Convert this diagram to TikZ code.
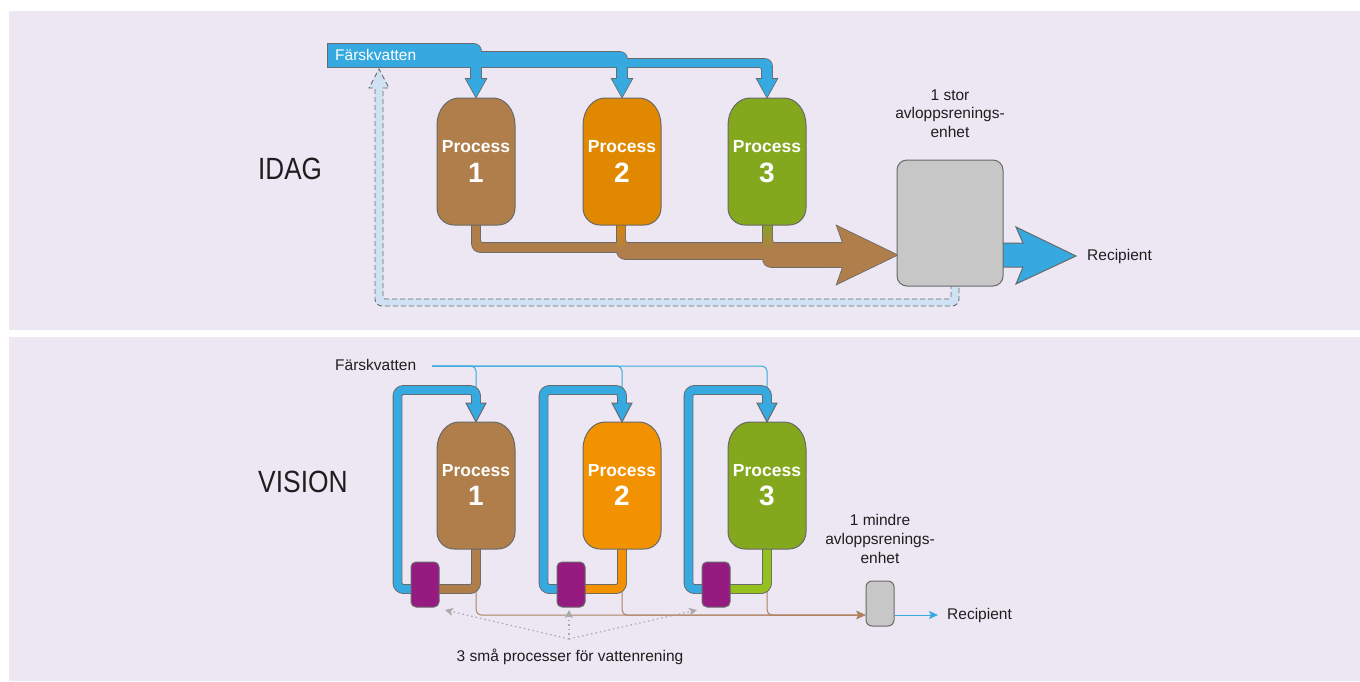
\documentclass[tikz,border=0pt]{standalone}
\usepackage{fontspec}
\setmainfont{Liberation Sans}
\usetikzlibrary{arrows.meta}
\definecolor{panel}{RGB}{236,231,243}
\definecolor{wblue}{RGB}{54,169,224}
\definecolor{pbrown}{RGB}{176,126,74}
\definecolor{porange}{RGB}{224,137,0}
\definecolor{porangeb}{RGB}{242,146,0}
\definecolor{pgreen}{RGB}{131,168,30}
\definecolor{pgreenb}{RGB}{149,193,31}
\definecolor{ppurple}{RGB}{149,27,129}
\definecolor{unitgray}{RGB}{199,199,199}
\definecolor{edge}{RGB}{105,105,105}
\definecolor{ink}{RGB}{30,30,30}
\definecolor{lightblue}{RGB}{207,226,243}
\definecolor{thinbrown}{RGB}{176,130,96}
\definecolor{hintgray}{RGB}{170,170,170}
% vessel outline: #1 centre x, #2 top y (pixels, downwards)
\newcommand\vesselpath[2]{({#1-39},{-(#2)-27}) arc[start angle=180,end angle=90,x radius=22,y radius=27] -- ({#1+17},{-(#2)}) arc[start angle=90,end angle=0,x radius=22,y radius=27] -- ({#1+39},{-(#2)-110}) arc[start angle=0,end angle=-90,radius=17] -- ({#1-22},{-(#2)-127}) arc[start angle=-90,end angle=-180,radius=17] -- cycle}
% fresh water supply shapes (top)
\newcommand\bluA{(328,-44) -- (474,-44) arc[start angle=90,end angle=0,radius=7] -- (481,-79) -- (486,-79) -- (476,-97) -- (466,-79) -- (471,-79) -- (471,-67) -- (328,-67) -- cycle}
\newcommand\bluB{(470,-52) -- (620,-52) arc[start angle=90,end angle=0,radius=7] -- (627,-79) -- (632,-79) -- (622,-97) -- (612,-79) -- (617,-79) -- (617,-67) -- (470,-67) -- cycle}
\newcommand\bluC{(615,-59) -- (765,-59) arc[start angle=90,end angle=0,radius=7] -- (772,-79) -- (777,-79) -- (767,-97) -- (757,-79) -- (762,-79) -- (762,-70) arc[start angle=0,end angle=90,radius=3] -- (615,-67) -- cycle}
% waste water shapes (top)
\newcommand\brnA{(472,-220) -- (472,-244) arc[start angle=180,end angle=270,radius=8] -- (850,-252) -- (850,-243) -- (483,-243) arc[start angle=270,end angle=180,radius=3] -- (480,-220) -- cycle}
\newcommand\brnB{(617,-220) -- (617,-251) arc[start angle=180,end angle=270,radius=8] -- (850,-259) -- (850,-243) -- (628,-243) arc[start angle=270,end angle=180,radius=3] -- (625,-220) -- cycle}
\newcommand\brnC{(763,-220) -- (763,-259) arc[start angle=180,end angle=270,radius=8] -- (850,-267) -- (850,-243) -- (775,-243) arc[start angle=270,end angle=180,radius=3] -- (772,-220) -- cycle}
\newcommand\brnHead{(843,-243) -- (837,-226) -- (897,-255) -- (837,-284) -- (843,-267) -- (830,-267) -- (830,-243) -- cycle}
\begin{document}
\begin{tikzpicture}[x=1pt,y=1pt,
  edgeline/.style={draw=edge, line width=1pt},
  lbl/.style={font=\fontsize{15.5}{18}\selectfont, text=ink, inner sep=0pt},
  ptitle/.style={text=white, font=\bfseries\fontsize{17.5}{20}\selectfont, inner sep=0pt},
  pnum/.style={text=white, font=\bfseries\fontsize{28}{30}\selectfont, inner sep=0pt},
  bigtitle/.style={font=\fontsize{30.7}{34}\selectfont, text=ink, inner sep=0pt},
  unitbox/.style={draw=edge, line width=1pt, fill=unitgray, inner sep=0pt},
  pipeedge/.style={draw=edge, line width=9.8pt, rounded corners=6pt},
  pipefill/.style={line width=8pt, rounded corners=6pt},
  thinarrow/.style={line width=1pt, -{Stealth[length=9pt,width=8pt,inset=2pt]}},
  hintarrow/.style={draw=hintgray, line width=1.2pt, dash pattern=on 1.5pt off 3pt, -{Stealth[length=8pt,width=8pt,inset=2pt]}},
  returnpipe/.style={fill=lightblue, draw=edge, line width=0.9pt, dash pattern=on 5pt off 3pt},
]
\useasboundingbox (0,0) rectangle (1360,-681);
\fill[white] (0,0) rectangle (1360,-681);
\fill[panel] (9,-11) rectangle (1360,-330);
\fill[panel] (9,-337) rectangle (1360,-681);

%% ================= IDAG =================
\node[bigtitle, anchor=base west] (idag) at (258,-179) {\scalebox{0.85}[1]{IDAG}};

% return pipe (dashed)
\path[returnpipe] (959,-280) -- (959,-299) arc[start angle=0,end angle=-90,radius=7] -- (382,-306) arc[start angle=270,end angle=180,radius=7] -- (375,-88) -- (369,-88) -- (379,-69) -- (389,-88) -- (383,-88) -- (383,-297) arc[start angle=180,end angle=270,radius=2] -- (949,-299) arc[start angle=270,end angle=360,radius=2] -- (951,-280) -- cycle;

% fresh water supply
\draw[edge, line width=1.6pt] \bluA;
\draw[edge, line width=1.6pt] \bluB;
\draw[edge, line width=1.6pt] \bluC;
\fill[wblue] \bluA;
\fill[wblue] \bluB;
\fill[wblue] \bluC;
\node[font=\fontsize{15.5}{18}\selectfont, text=white, inner sep=0pt, anchor=base west] (fwtop) at (335,-60) {Färskvatten};

% waste water
\draw[edge, line width=1.6pt] \brnA;
\draw[edge, line width=1.6pt] \brnB;
\draw[edge, line width=1.6pt] \brnC;
\draw[edge, line width=1.6pt] \brnHead;
\fill[pbrown] \brnA;
\fill[pbrown] \brnB;
\fill[pbrown] \brnC;
\fill[pbrown] \brnHead;
\shade[top color=porange, bottom color=pbrown] (617,-220) rectangle (625,-250);
\shade[top color=pgreen, bottom color=pbrown] (763,-220) rectangle (772,-250);

% processes
\foreach \cx/\col/\n in {476/pbrown/1, 622/porange/2, 767/pgreen/3} {
  \path[fill=\col, edgeline] \vesselpath{\cx}{98};
  \node[ptitle, anchor=base] (tproc\n) at (\cx,-152) {Process};
  \node[pnum, anchor=base] (tnum\n) at (\cx,-182) {\n};
}

% big output arrow
\path[fill=wblue, edgeline] (995,-243) -- (1023,-243) -- (1016,-227) -- (1076,-256) -- (1016,-284) -- (1023,-267) -- (995,-267) -- cycle;
% big treatment unit
\node[unitbox, rounded corners=10pt, minimum width=106pt, minimum height=126pt] (unit1) at (950,-223) {};
\node[lbl, anchor=base] (u1a) at (950,-100) {1 stor};
\node[lbl, anchor=base] (u1b) at (950,-118.7) {avloppsrenings-};
\node[lbl, anchor=base] (u1c) at (950,-137.4) {enhet};
\node[lbl, anchor=base west] (rec1) at (1087,-260) {Recipient};

%% ================= VISION =================
\node[bigtitle, anchor=base west] (vision) at (258,-492) {\scalebox{0.86}[1]{VISION}};

\node[lbl, anchor=base west] (fwbot) at (335,-370) {Färskvatten};
\coordinate (fwstart) at (432,-366);
\foreach \cx in {476,622,767} {
  \draw[wblue, line width=1pt, rounded corners=5pt] (fwstart) -| (\cx,-393);
}

% small treatment unit and its connectors
\node[unitbox, rounded corners=6pt, minimum width=28pt, minimum height=45pt] (unit2) at (880,-603.5) {};
\coordinate (u2in) at (unit2.west |- 0,-615);
\coordinate (u2out) at (unit2.east |- 0,-615);
\coordinate (rec2tip) at (938,-615);
\foreach \cx in {476,622,767} {
  \draw[thinbrown, thinarrow, rounded corners=5pt] (\cx,-590) |- (u2in);
}
\draw[wblue, thinarrow] (u2out) -- (rec2tip);
\node[lbl, anchor=base west] (rec2) at (947,-619) {Recipient};
\node[lbl, anchor=base] (u2a) at (880,-525) {1 mindre};
\node[lbl, anchor=base] (u2b) at (880,-544) {avloppsrenings-};
\node[lbl, anchor=base] (u2c) at (880,-563) {enhet};

% recirculation loops
\foreach \cx in {476,622,767} {
  \draw[pipeedge] ({\cx-51},-589) -- ({\cx-78.5},-589) -- ({\cx-78.5},-390) -- (\cx,-390) -- (\cx,-404);
  \path[fill=wblue, edgeline] ({\cx-10},-403) -- (\cx,-422) -- ({\cx+10},-403) -- cycle;
  \draw[pipefill, wblue] ({\cx-51},-589) -- ({\cx-78.5},-589) -- ({\cx-78.5},-390) -- (\cx,-390) -- (\cx,-405.5);
}
% process outlet pipes
\foreach \cx/\col in {476/pbrown, 622/porangeb, 767/pgreenb} {
  \draw[pipeedge] (\cx,-540) -- (\cx,-589) -- ({\cx-51},-589);
  \draw[pipefill, \col] (\cx,-540) -- (\cx,-589) -- ({\cx-51},-589);
}
% processes
\foreach \cx/\col/\n in {476/pbrown/1, 622/porangeb/2, 767/pgreen/3} {
  \path[fill=\col, edgeline] \vesselpath{\cx}{422};
  \node[ptitle, anchor=base] (bproc\n) at (\cx,-476) {Process};
  \node[pnum, anchor=base] (bnum\n) at (\cx,-505) {\n};
  \node[draw=edge, line width=1pt, fill=ppurple, rounded corners=5pt, minimum width=28pt, minimum height=45pt, inner sep=0pt] (clean\n) at ({\cx-51},-584.5) {};
}

% hint arrows
\coordinate (hint) at (569,-639);
\draw[hintarrow] (hint) -- (445,-610);
\draw[hintarrow] (hint) -- (569,-610);
\draw[hintarrow] (hint) -- (697,-610);
\node[lbl, anchor=base] (hinttext) at (570,-661.5) {3 små processer för vattenrening};
\end{tikzpicture}
\end{document}
